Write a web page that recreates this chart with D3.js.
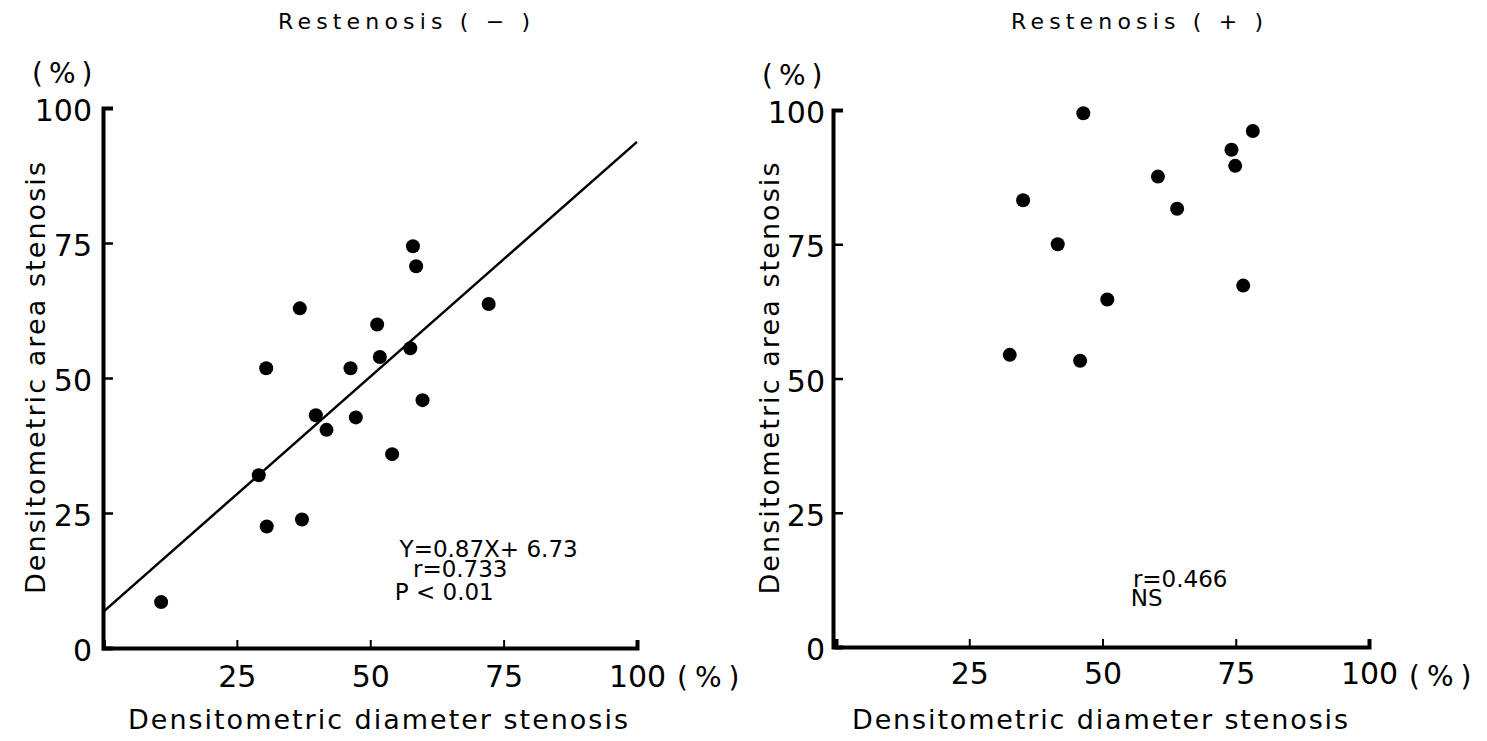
<!DOCTYPE html>
<html>
<head>
<meta charset="utf-8">
<script src="https://cdn.jsdelivr.net/npm/d3@7"></script>
<style>
  body { margin: 0; background: #fff; }
  text { font-family: "DejaVu Sans", sans-serif; fill: #000; }
</style>
</head>
<body>
<div id="chart"></div>
<script>
// Restenosis (-) : diameter stenosis vs area stenosis
const negX = [10.8, 29.1, 30.6, 30.5, 36.8, 37.2, 39.8, 41.8, 46.3, 47.3, 51.3, 51.8, 54.1, 57.5, 58.0, 58.6, 59.8, 72.2];
const negY = [8.5, 32.0, 22.5, 51.8, 62.9, 23.8, 43.1, 40.4, 51.8, 42.7, 59.9, 53.9, 35.9, 55.5, 74.4, 70.7, 45.9, 63.7];

// Restenosis (+)
const posX = [46.4, 78.2, 74.2, 74.9, 60.4, 35.1, 64.0, 41.6, 76.4, 50.9, 32.6, 45.8];
const posY = [99.4, 96.1, 92.6, 89.6, 87.6, 83.2, 81.6, 75.0, 67.3, 64.7, 54.4, 53.3];

// regression line of the left panel
const slope = 0.87, intercept = 6.73;

const yTicks = [0, 25, 50, 75, 100];
const xTicks = [25, 50, 75, 100];

const titles = ["Restenosis ( − )", "Restenosis ( + )"];
const xLabel = "Densitometric diameter stenosis";
const yLabel = "Densitometric area stenosis";
const negNotes = ["Y=0.87X+ 6.73", "r=0.733", "P < 0.01"];
const posNotes = ["r=0.466", "NS"];

const width = 1487, height = 741;

const svg = d3.select('#chart')
  .append('svg')
  .attr('width', width)
  .attr('height', height);

function drawPanel(opts) {
  const x = d3.scaleLinear().domain([0, 100]).range([opts.left, opts.right]);
  const y = d3.scaleLinear().domain([0, 100]).range([opts.bottom, opts.top]);
  const g = svg.append('g');

  // y axis, ticks pointing inside
  const ya = g.append('g')
    .attr('transform', `translate(${opts.axisX},0)`)
    .call(d3.axisLeft(y).tickValues(yTicks).tickSizeInner(-10).tickSizeOuter(-10).tickPadding(opts.yPad));
  ya.select('.domain').attr('stroke-width', 4);
  ya.selectAll('.tick line').attr('stroke-width', 2.5);
  ya.selectAll('.tick text')
    .attr('font-size', 30)
    .attr('font-family', '"DejaVu Sans", sans-serif')
    .attr('dy', '0.42em');

  // x axis, ticks pointing up
  const xa = g.append('g')
    .attr('transform', `translate(0,${opts.bottom})`)
    .call(d3.axisBottom(x).tickValues(xTicks).tickSizeInner(-8).tickSizeOuter(-8).tickPadding(opts.xPad));
  xa.select('.domain').attr('stroke-width', 4);
  xa.selectAll('.tick line').attr('stroke-width', 2);
  xa.selectAll('.tick text')
    .attr('font-size', 30)
    .attr('font-family', '"DejaVu Sans", sans-serif')
    .attr('dy', '0.72em');

  // (%) units
  g.append('text')
    .attr('x', x(100) + 40)
    .attr('y', opts.bottom + 39)
    .attr('font-size', 28)
    .attr('letter-spacing', 7)
    .text('(%)');
  g.append('text')
    .attr('x', opts.axisX - 71)
    .attr('y', opts.top - 25)
    .attr('font-size', 28)
    .attr('letter-spacing', 6)
    .text('(%)');

  // title
  g.append('text')
    .attr('x', opts.titleX)
    .attr('y', 29)
    .attr('font-size', 22)
    .attr('textLength', 252)
    .attr('lengthAdjust', 'spacing')
    .text(opts.title);

  // axis labels
  g.append('text')
    .attr('x', opts.xLabelX)
    .attr('y', 729)
    .attr('font-size', 27)
    .attr('textLength', opts.xLabelLen)
    .attr('lengthAdjust', 'spacing')
    .text(xLabel);

  const mid = (opts.top + opts.bottom) / 2;
  g.append('text')
    .attr('transform', `translate(${opts.yLabelX},${mid + 216}) rotate(-90)`)
    .attr('font-size', 27)
    .attr('textLength', 432)
    .attr('lengthAdjust', 'spacing')
    .text(yLabel);

  // regression line
  if (opts.fit) {
    g.append('line')
      .attr('x1', x(0)).attr('y1', y(intercept))
      .attr('x2', x(100)).attr('y2', y(slope * 100 + intercept))
      .attr('stroke', '#000')
      .attr('stroke-width', 2.5);
  }

  // points
  g.selectAll('circle')
    .data(opts.xs.map((v, i) => [v, opts.ys[i]]))
    .enter()
    .append('circle')
    .attr('cx', d => x(d[0]))
    .attr('cy', d => y(d[1]))
    .attr('r', 7)
    .attr('fill', '#000');

  // notes
  g.selectAll('text.note')
    .data(opts.notes)
    .enter()
    .append('text')
    .attr('class', 'note')
    .attr('x', (d, i) => x(opts.noteX[i]))
    .attr('y', (d, i) => opts.noteY[i])
    .attr('font-size', 23)
    .text(d => d);
}

drawPanel({
  left: 103.5, right: 637, top: 108, bottom: 648, axisX: 103,
  yPad: 11, xPad: 17,
  xs: negX, ys: negY, fit: true,
  title: titles[0], titleX: 278,
  xLabelX: 128, xLabelLen: 500,
  yLabelX: 45,
  notes: negNotes, noteX: [55.5, 58.0, 54.6], noteY: [557, 577, 600]
});

drawPanel({
  left: 836, right: 1369, top: 110, bottom: 647, axisX: 833,
  yPad: 8, xPad: 15,
  xs: posX, ys: posY, fit: false,
  title: titles[1], titleX: 1011,
  xLabelX: 852, xLabelLen: 496,
  yLabelX: 779,
  notes: posNotes, noteX: [55.7, 55.3], noteY: [587, 606]
});
</script>
</body>
</html>
